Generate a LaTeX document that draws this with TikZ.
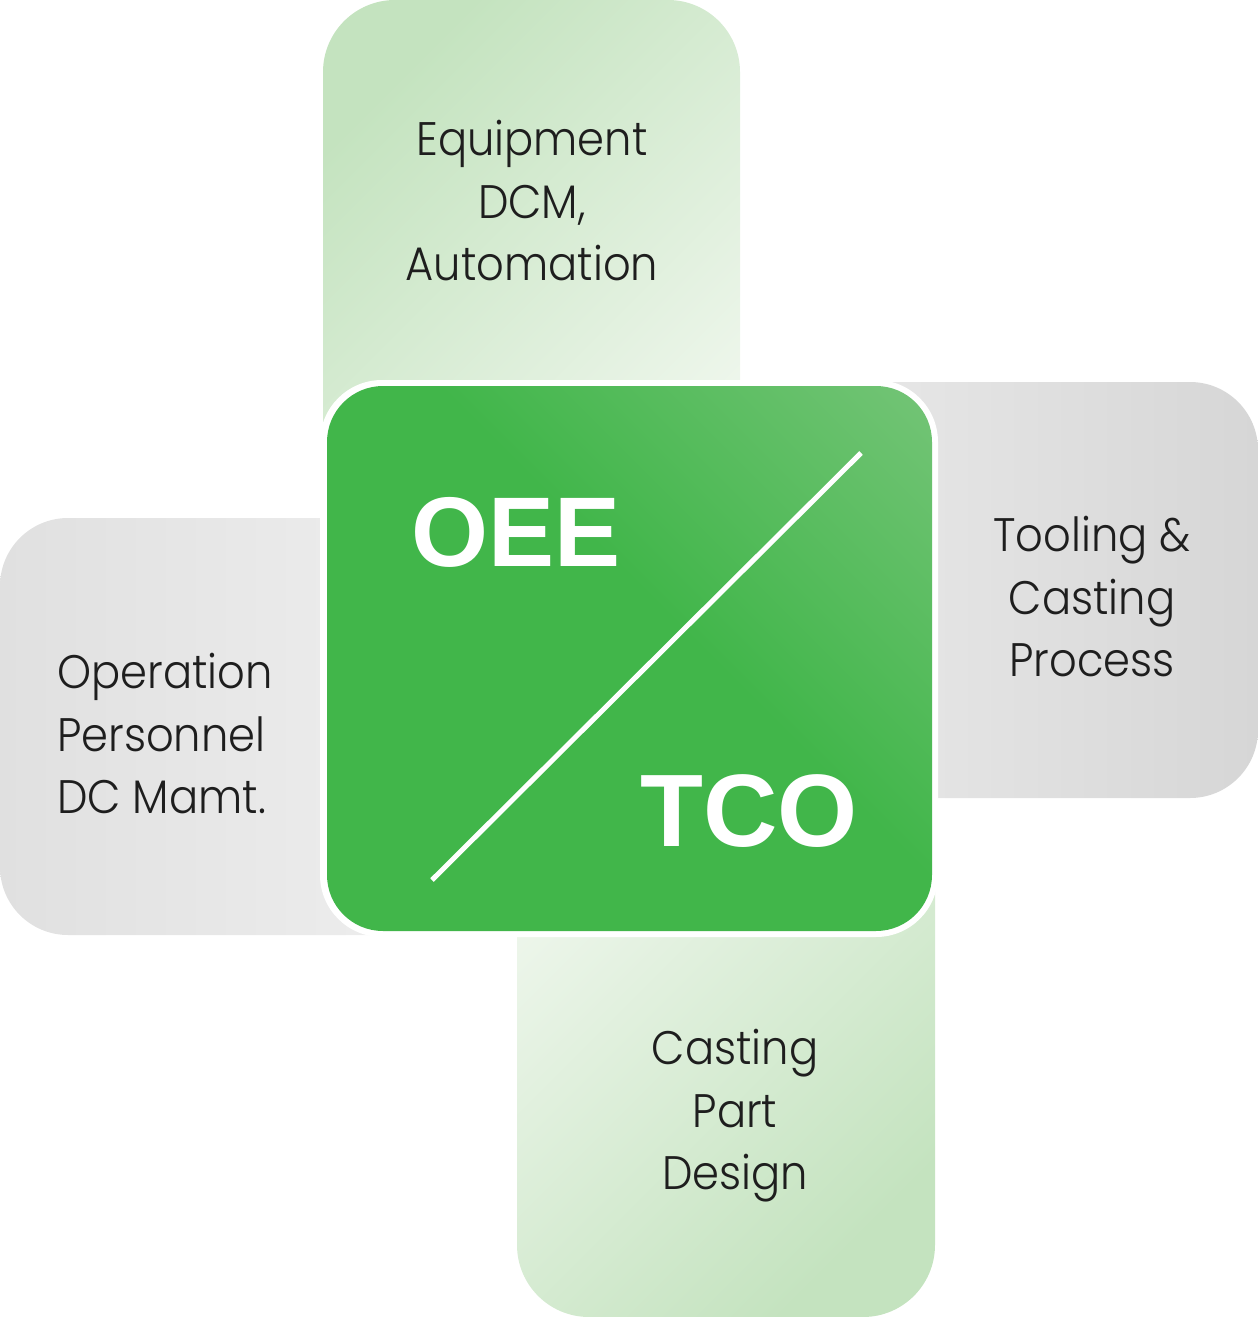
\documentclass[tikz,border=0pt]{standalone}
\usepackage{fontspec}
\setmainfont{Poppins}[UprightFont=* Light, FakeStretch=0.92]
\newfontfamily\boldsans{Liberation Sans}[UprightFont=* Bold]
\definecolor{txt}{HTML}{1E1E1E}
\definecolor{gA}{HTML}{C4E3BF}
\definecolor{gB}{HTML}{F2F8F0}
\definecolor{grA}{HTML}{E0E0E0}
\definecolor{grB}{HTML}{F4F4F4}
\definecolor{grC}{HTML}{EEEEEE}
\definecolor{grD}{HTML}{D6D6D6}
\definecolor{cG}{HTML}{41B64A}
\definecolor{cL}{HTML}{8CCB8C}
\pgfdeclareverticalshading{greenshade}{100bp}{color(0bp)=(cG); color(55bp)=(cG); color(100bp)=(cL)}
\begin{document}
\begin{tikzpicture}[x=1pt,y=-1pt,
  lbl/.style={text=txt, font=\fontsize{47}{62.5}\selectfont, inner sep=0pt},
  big/.style={text=white, font=\boldsans\fontsize{99}{100}\selectfont, inner sep=0pt}]
\useasboundingbox (0,0) rectangle (1258,1317);
% side panels
\shade[rounded corners=72pt, top color=gA, bottom color=gB, shading angle=45] (323,0) rectangle (740,600);
\shade[rounded corners=72pt, top color=gB, bottom color=gA, shading angle=45] (517,700) rectangle (935,1317);
\shade[rounded corners=68pt, left color=grA, right color=grB] (0,518) rectangle (600,935);
\shade[rounded corners=68pt, left color=grC, right color=grD] (700,382) rectangle (1258,798);
% centre box
\fill[white, rounded corners=62pt] (320,380) rectangle (938,937);
\shade[rounded corners=56pt, shading=greenshade, shading angle=-45] (327,386) rectangle (932,931);
\coordinate (d1) at (432,880);
\coordinate (d2) at (861,453);
\draw[white, line width=5pt] (d1) -- (d2);
\node[big] (oee) at (516,532) {OEE};
\node[big, font=\boldsans\fontsize{103}{104}\selectfont] (tco) at (749,811) {TCO};
% labels
\node[lbl, align=center] (top) at (532,201) {Equipment\\DCM,\\Automation};
\node[lbl, align=center] (right) at (1092,597) {Tooling \&\\Casting\\Process};
\node[lbl, align=left, anchor=west] (left) at (57,734) {Operation\\Personnel\\DC Mamt.};
\node[lbl, align=center] (bottom) at (735,1116) {Casting\\Part\\Design};
\end{tikzpicture}
\end{document}
